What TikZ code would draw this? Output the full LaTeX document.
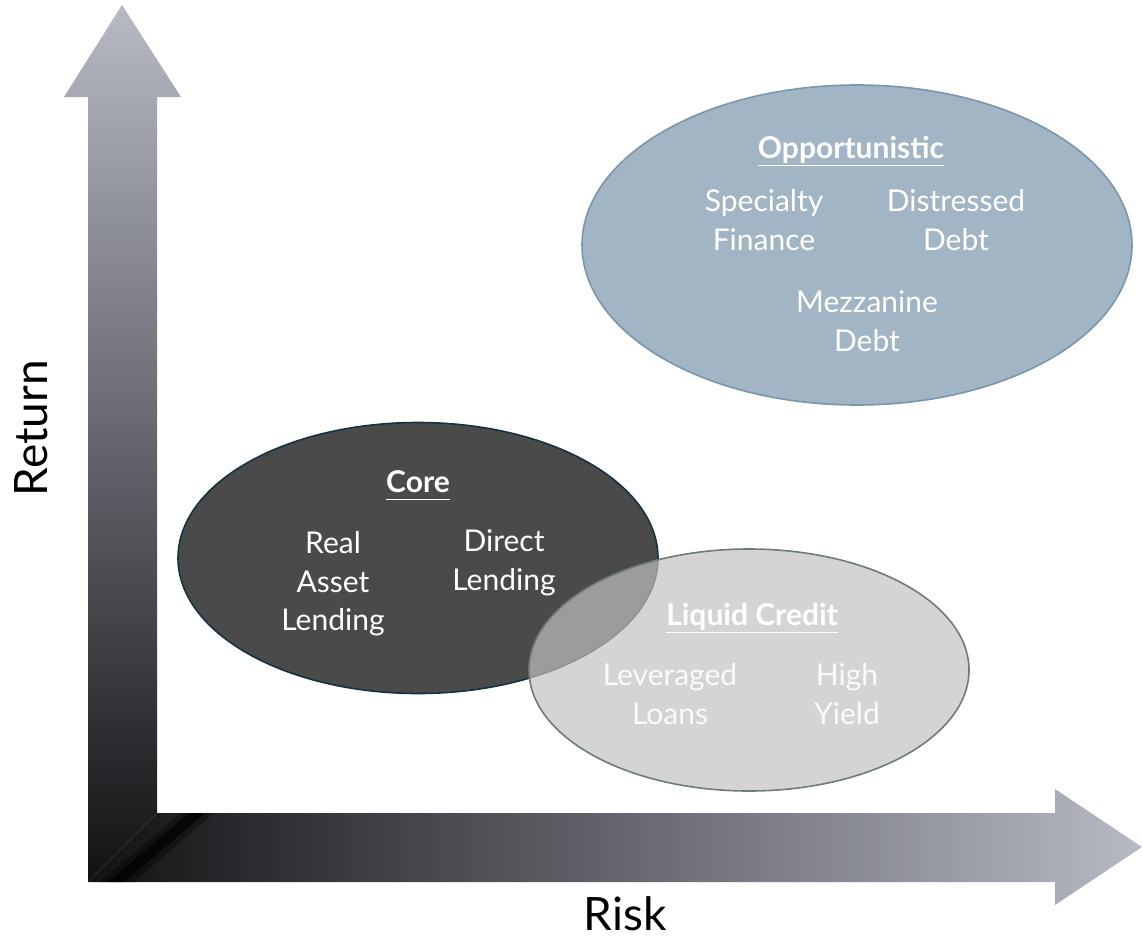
\documentclass[tikz,border=0pt]{standalone}
\usepackage{fontspec}
\setmainfont{Lato}
\definecolor{axlight}{HTML}{B7B9C5}
\definecolor{axmid}{HTML}{77787F}
\definecolor{axdark}{HTML}{121214}
\definecolor{opfill}{HTML}{A2B5C4}
\definecolor{opdraw}{HTML}{7A96AB}
\definecolor{corefill}{HTML}{4A4A4A}
\definecolor{coredraw}{HTML}{14323F}
\definecolor{liqfill}{HTML}{C1C1C1}
\definecolor{liqdraw}{HTML}{6F7B7B}
\newcommand\ulhead[1]{\underline{\vphantom{p}#1}}
\tikzset{
  lbl/.style={text=white, align=center, font=\fontsize{30}{38.5}\selectfont, inner sep=0pt},
  head/.style={text=white, align=center, font=\fontsize{30}{38.5}\selectfont\bfseries, inner sep=0pt},
  axlbl/.style={text=black, font=\fontsize{46}{52}\selectfont, inner sep=0pt}
}
\begin{document}
\begin{tikzpicture}[x=1pt,y=-1pt]
\useasboundingbox (0,0) rectangle (1142,940);
% vertical arrow (Return)
\path[top color=axlight, middle color=axmid, bottom color=axdark]
  (88,882) -- (88,97) -- (64,97) -- (122,5) -- (181,97) -- (157,97) -- (157,813) -- cycle;
% horizontal arrow (Risk)
\path[left color=axdark, middle color=axmid, right color=axlight]
  (88,882) -- (157,813) -- (1055,813) -- (1055,789) -- (1142,847) -- (1055,905) -- (1055,882) -- cycle;
% dark band at the corner
\fill[black, opacity=0.35] (100,882) -- (134,882) -- (214,813) -- (180,813) -- cycle;
\fill[black, opacity=0.7] (108,882) -- (124,882) -- (205,813) -- (189,813) -- cycle;
% Opportunistic
\draw[fill=opfill, draw=opdraw, line width=1.6pt] (857,245) ellipse [x radius=275, y radius=160];
\node[head] (ophead) at (851,151) {\ulhead{Opportunistic}};
\node[lbl] (spec) at (764,220) {Specialty\\Finance};
\node[lbl] (dist) at (956,220) {Distressed\\Debt};
\node[lbl] (mezz) at (867,321) {Mezzanine\\Debt};
% Core
\draw[fill=corefill, draw=coredraw, line width=1.6pt] (418,558) ellipse [x radius=240, y radius=135.5];
\node[head] (corehead) at (418,485) {\ulhead{Core}};
\node[lbl] (real) at (333,584) {Real\\Asset\\Lending};
\node[lbl] (direct) at (504,563) {Direct\\Lending};
% Liquid Credit
\draw[fill=liqfill, fill opacity=0.69, draw=liqdraw, line width=1.6pt] (749,670) ellipse [x radius=220, y radius=121];
\node[head] (liqhead) at (752,618) {\ulhead{Liquid Credit}};
\node[lbl, text opacity=0.9] (lev) at (670,694) {Leveraged\\Loans};
\node[lbl, text opacity=0.9] (high) at (847,694) {High\\Yield};
% axis labels
\node[axlbl, rotate=90] (ret) at (31,428) {Return};
\node[axlbl] (risk) at (625,914) {Risk};
\end{tikzpicture}
\end{document}
